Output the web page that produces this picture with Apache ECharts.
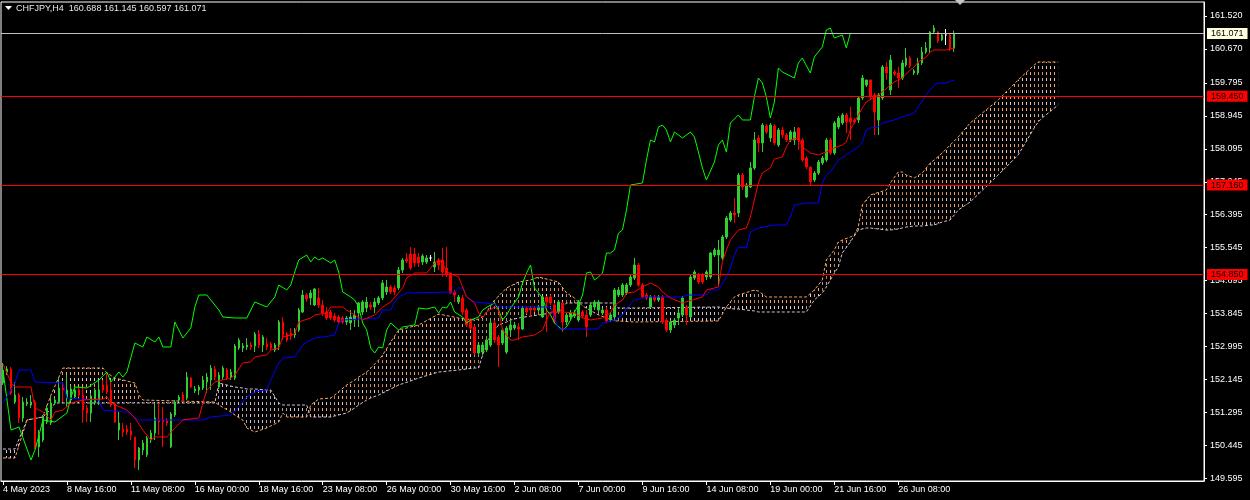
<!DOCTYPE html>
<html><head><meta charset="utf-8">
<script src="https://cdn.jsdelivr.net/npm/echarts@6/dist/echarts.min.js"></script>
<style>html,body{margin:0;padding:0;background:#000;}#c{width:1250px;height:500px;}</style>
</head><body><div id="c"></div>
<script>
const titleText = 'CHFJPY,H4  160.688 161.145 160.597 161.071';
const yTicks = [161.520,160.670,159.795,158.945,158.095,157.245,156.395,155.545,154.695,153.845,152.995,152.145,151.295,150.445,149.595];
const xLabelIdx = [0,16,32,48,64,80,96,112,128,144,160,176,192,208,224];
const xLabelText = ['4 May 2023','8 May 16:00','11 May 08:00','16 May 00:00','18 May 16:00','23 May 08:00','26 May 00:00','30 May 16:00','2 Jun 08:00','7 Jun 00:00','9 Jun 16:00','14 Jun 08:00','19 Jun 00:00','21 Jun 16:00','26 Jun 08:00'];
const levels = [159.450,157.160,154.850];
const bidPrice = 161.071;

const opens = [
152.054,152.338,152.416,151.564,151.745,151.152,151.513,151.487,151.564,150.404,
150.584,151.049,151.023,151.539,151.564,151.925,151.667,151.616,151.693,151.874,
151.745,151.410,151.281,151.539,151.539,152.003,152.003,151.874,151.513,150.842,
150.868,150.868,150.816,150.662,150.068,150.326,150.197,150.584,150.765,151.100,
151.100,151.075,150.404,151.229,151.616,151.745,151.667,152.183,151.848,151.874,
151.925,152.080,152.132,152.416,151.951,152.209,152.390,152.209,152.183,152.957,
152.957,152.983,153.035,153.009,153.318,153.035,153.060,153.060,152.905,153.035,
153.628,153.318,153.344,153.292,153.421,153.886,154.324,154.247,154.066,154.247,
154.066,153.886,153.886,153.782,153.757,153.731,153.628,153.602,153.679,153.860,
153.886,153.989,154.066,154.015,154.118,154.247,154.402,154.531,154.505,154.505,
154.969,155.253,155.382,155.382,155.304,155.175,155.175,155.279,155.046,155.227,
155.227,155.020,154.892,154.402,154.144,154.247,153.937,153.679,153.499,152.828,
152.854,152.905,153.035,153.602,153.241,153.086,152.854,153.421,153.473,153.499,
153.447,153.989,153.989,153.989,153.937,153.757,154.273,154.273,154.066,153.886,
154.118,153.628,153.757,153.782,153.679,153.886,153.808,153.808,154.015,153.937,
153.860,153.937,153.679,153.757,154.324,154.324,154.376,154.582,154.763,155.098,
154.582,154.324,154.015,154.273,154.195,154.273,153.679,153.421,153.550,153.731,
153.808,154.015,153.757,154.763,154.840,154.840,154.789,154.789,155.356,155.356,
155.279,155.820,156.259,156.439,156.439,157.419,156.852,157.110,157.600,158.374,
158.245,158.683,158.374,158.683,158.193,158.580,158.451,158.322,158.322,158.631,
158.322,157.858,157.626,157.290,157.471,157.729,157.806,158.322,157.987,158.657,
158.760,158.967,158.889,158.838,158.838,159.405,159.741,159.870,159.483,158.838,
159.405,160.205,159.612,160.076,160.050,159.921,160.256,160.437,160.050,160.050,
160.308,160.592,160.695,161.108,161.108,160.901,161.030,161.030,160.688];
const closes = [
152.390,152.416,151.796,151.745,151.152,151.564,151.564,151.564,150.404,150.713,
151.178,151.410,151.539,151.616,151.925,151.874,151.874,151.900,151.874,151.745,
151.358,151.281,151.719,151.874,151.874,151.874,151.822,151.487,151.049,151.023,
150.791,150.791,150.713,150.068,150.378,150.507,150.636,150.765,151.152,151.049,
151.049,151.023,151.255,151.564,151.693,151.616,152.209,151.951,151.900,151.951,
152.132,152.209,152.441,152.209,152.261,152.441,152.183,152.338,153.009,153.163,
153.009,153.035,152.983,153.318,153.035,153.241,152.983,152.957,153.035,153.628,
153.292,153.163,153.267,153.421,153.937,154.324,154.221,154.376,154.479,154.066,
153.860,153.731,153.731,153.679,153.628,153.628,153.731,153.757,153.808,154.118,
154.144,154.144,154.015,154.144,154.247,154.634,154.531,154.402,154.402,154.969,
155.227,155.201,155.020,155.150,155.150,155.330,155.279,155.279,155.175,155.098,
154.917,154.840,154.376,154.324,154.273,153.886,153.550,153.473,152.828,153.035,
153.035,153.163,153.602,153.163,153.035,153.421,153.473,153.550,153.550,153.447,
153.989,153.886,153.937,153.937,154.015,154.273,154.144,154.118,153.628,154.144,
153.628,153.808,153.860,153.860,154.144,153.782,153.499,154.066,154.144,154.144,
153.937,153.654,153.808,154.453,154.453,154.582,154.582,154.789,155.098,154.582,
154.273,154.247,154.273,154.195,154.273,153.628,153.421,153.628,153.679,153.860,
154.247,153.808,154.789,154.917,154.660,154.660,154.917,155.407,155.485,155.485,
155.820,156.310,156.439,156.387,157.419,157.110,157.161,157.600,158.322,158.245,
158.709,158.528,158.709,158.245,158.580,158.451,158.322,158.528,158.528,158.322,
157.806,157.626,157.239,157.471,157.755,157.858,158.322,157.987,158.760,158.889,
158.967,158.786,158.786,158.786,159.405,159.921,159.870,159.431,159.044,159.483,
160.205,160.050,160.385,160.024,159.921,160.308,160.437,160.231,160.102,160.308,
160.592,160.695,161.108,161.211,160.876,161.030,161.030,160.669,161.071];
const lows = [
152.003,152.261,151.745,151.513,151.023,151.049,151.461,151.410,150.352,150.146,
150.533,150.997,150.971,151.487,151.539,151.564,151.435,151.564,151.642,151.693,
151.023,151.049,151.049,151.487,151.487,151.796,151.771,151.435,151.023,150.584,
150.662,150.713,150.584,149.862,149.811,150.197,150.146,150.507,150.584,150.713,
150.404,150.945,150.378,151.178,151.564,151.564,151.616,151.925,151.796,151.745,
151.874,151.796,151.874,152.132,151.900,152.132,152.132,152.132,152.132,152.905,
152.854,152.905,152.905,152.854,152.957,152.854,152.905,152.905,152.854,152.905,
153.163,153.112,153.163,153.215,153.370,153.860,154.144,154.066,154.040,153.989,
153.782,153.679,153.679,153.628,153.550,153.576,153.550,153.421,153.499,153.499,
153.808,153.886,153.937,153.860,154.066,154.195,154.324,154.350,154.324,154.453,
154.892,155.150,154.969,155.046,155.046,155.098,155.124,155.201,154.917,154.969,
154.789,154.789,154.350,154.144,154.092,153.808,153.499,153.421,152.777,152.751,
152.777,152.854,152.983,153.086,152.467,153.035,152.802,153.241,153.421,153.163,
153.421,153.834,153.757,153.886,153.886,153.731,153.370,154.066,153.576,153.834,
153.370,153.550,153.679,153.731,153.628,153.731,153.241,153.757,153.937,153.886,
153.808,153.602,153.628,153.731,154.273,154.273,154.324,154.531,154.711,154.531,
154.247,154.195,153.989,154.144,154.144,153.576,153.370,153.344,153.473,153.550,
153.757,153.550,153.731,154.711,154.608,154.608,154.711,154.737,155.304,154.531,
155.227,155.769,156.207,156.181,156.336,157.032,156.826,157.084,157.548,158.012,
158.012,158.477,158.270,158.193,158.141,158.374,158.270,158.270,158.193,158.064,
157.755,157.574,157.161,157.239,157.419,157.677,157.755,157.935,157.935,158.606,
158.709,158.503,158.322,158.735,158.760,159.354,159.689,159.354,158.451,158.451,
159.354,159.870,159.483,159.973,159.663,159.870,160.205,160.179,159.999,159.999,
160.256,160.540,160.566,161.082,160.824,160.876,160.772,160.618,160.597];
const highs = [
152.570,152.493,152.467,152.080,151.796,151.693,151.667,151.745,151.616,150.842,
151.229,151.487,151.693,151.667,152.209,152.080,152.261,151.977,151.925,151.925,
151.951,151.487,151.796,151.925,152.132,152.132,152.312,152.132,151.564,151.307,
151.023,150.971,151.023,150.662,150.404,150.584,150.687,150.842,151.539,151.539,
151.435,151.152,151.307,151.616,151.745,151.822,152.338,152.209,151.977,152.003,
152.235,152.312,152.519,152.493,152.338,152.493,152.441,152.416,153.060,153.215,
153.086,153.215,153.112,153.370,153.421,153.292,153.215,153.112,153.086,153.679,
153.757,153.370,153.473,153.473,153.989,154.453,154.376,154.453,154.505,154.505,
154.195,154.015,153.937,153.860,153.808,153.782,153.782,153.937,153.937,154.144,
154.195,154.273,154.144,154.247,154.298,154.711,154.711,154.582,154.582,155.046,
155.279,155.407,155.562,155.537,155.407,155.382,155.356,155.356,155.433,155.279,
155.537,155.562,154.892,154.453,154.324,154.324,153.989,153.731,153.550,153.086,
153.086,153.215,153.679,153.679,153.292,153.473,153.525,153.679,153.628,153.602,
154.015,154.040,154.015,154.040,154.066,154.298,154.298,154.324,154.118,154.195,
154.144,153.860,153.937,153.937,154.195,153.937,153.937,154.118,154.195,154.195,
153.989,154.015,153.860,154.505,154.531,154.634,154.634,154.840,155.279,155.150,
154.634,154.376,154.324,154.324,154.324,154.324,153.731,153.679,153.731,153.989,
154.298,154.066,154.840,154.969,154.892,154.892,154.969,155.433,155.537,155.743,
155.872,156.362,156.491,156.826,157.471,157.471,157.213,157.755,158.528,158.451,
158.760,158.735,158.760,158.735,158.631,158.657,158.503,158.580,158.657,158.657,
158.374,157.909,157.626,157.523,157.806,157.909,158.374,158.374,158.812,158.941,
159.018,159.018,159.173,158.889,159.431,159.999,159.870,159.870,159.534,159.534,
160.256,160.334,160.514,160.128,160.205,160.385,160.695,160.489,160.153,160.437,
160.721,160.850,161.133,161.288,161.133,161.082,161.185,161.082,161.145];

const tenkanIdx = [0,1,2,3,7,8,10,12,13,15,17,20,25,26,27,31,33,35,37,38,41,43,45,49,50,51,53,55,57,58,60,62,63,66,67,69,70,73,74,77,78,81,82,85,86,88,90,93,95,97,100,101,103,106,107,108,109,110,111,114,115,116,118,119,120,121,123,124,125,127,128,130,133,135,136,137,140,143,145,147,150,152,153,155,156,158,160,162,164,165,167,170,175,176,179,180,181,182,184,186,187,188,189,190,192,193,195,196,197,199,200,202,204,206,208,210,211,212,214,215,216,218,219,220,223,225,227,228,229,231,232,233,236,238];
const tenkanVal = [152.544,152.312,152.054,151.951,151.951,151.410,151.307,151.100,151.307,151.358,151.539,151.616,151.642,151.693,151.539,151.358,151.152,150.842,150.584,150.662,150.662,150.894,151.100,151.152,151.539,151.874,152.080,152.132,152.183,152.261,152.570,152.596,152.725,152.777,152.905,152.957,153.241,153.318,153.628,153.731,153.808,153.860,154.015,154.015,153.937,153.808,153.679,153.808,154.015,154.144,154.505,154.763,154.892,154.892,155.020,155.150,155.227,155.150,154.917,154.789,154.531,154.273,154.118,153.860,153.731,153.886,154.015,153.937,153.421,153.163,153.163,153.241,153.292,153.421,153.679,153.886,153.886,153.860,153.731,153.679,153.731,153.860,154.066,154.195,154.376,154.402,154.531,154.634,154.531,154.402,154.247,154.118,154.273,154.453,154.531,155.175,155.485,155.743,156.000,156.052,156.336,156.774,157.213,157.471,157.600,157.832,157.884,158.141,158.322,158.374,158.141,157.987,157.935,158.012,158.116,158.193,158.270,158.580,158.967,159.147,159.302,159.431,159.483,159.560,159.818,159.921,160.128,160.205,160.334,160.463,160.592,160.643,160.643,160.695];

const kijunIdx = [0,3,4,7,8,15,16,24,25,31,33,34,50,52,57,59,61,63,66,67,69,70,73,75,76,78,80,83,84,85,94,95,97,98,99,101,113,114,115,116,118,123,124,137,138,139,149,150,153,155,156,158,161,170,171,176,177,179,181,182,183,184,186,187,189,193,196,197,198,201,204,205,206,207,209,211,214,215,216,217,219,220,223,225,228,229,231,233,234,236,238];
const kijunVal = [151.539,152.054,152.390,152.390,152.080,152.054,151.667,151.616,151.358,151.307,151.178,151.100,151.100,151.178,151.229,151.435,151.693,151.822,151.874,152.132,152.570,152.699,152.725,153.035,153.112,153.215,153.241,153.292,153.602,153.679,153.731,153.937,153.937,154.144,154.273,154.376,154.402,154.505,154.505,154.273,154.144,154.092,154.015,154.015,153.757,153.447,153.447,153.602,153.679,153.808,153.989,154.195,154.273,154.273,154.324,154.324,154.453,154.453,154.789,155.020,155.356,155.562,155.537,155.949,156.052,156.129,156.129,156.336,156.645,156.697,156.697,157.213,157.419,157.497,157.806,157.935,158.141,158.270,158.580,158.631,158.657,158.760,158.838,158.915,159.018,159.173,159.483,159.741,159.792,159.792,159.870];

const chikou = [[0,152.390],[2,150.842],[4,150.920],[7,150.068],[8,150.326],[10,151.100],[13,151.049],[16,151.281],[17,151.693],[18,151.951],[21,151.925],[24,152.132],[25,152.235],[26,152.338],[27,152.080],[29,152.338],[30,152.209],[31,152.338],[33,153.086],[34,153.035],[35,152.983],[36,153.241],[38,153.112],[39,153.241],[40,152.983],[42,152.983],[43,153.628],[44,153.421],[45,153.215],[47,153.473],[48,154.015],[49,154.324],[51,154.324],[54,153.937],[55,153.757],[58,153.731],[61,153.731],[63,154.144],[66,154.015],[68,154.273],[69,154.582],[71,154.453],[72,154.582],[73,154.917],[74,155.227],[76,155.356],[77,155.175],[78,155.304],[79,155.227],[80,155.279],[82,155.150],[83,155.227],[84,154.917],[85,154.402],[87,154.273],[88,154.195],[89,154.015],[90,153.602],[91,153.421],[92,152.957],[93,152.828],[94,152.983],[95,152.957],[96,153.421],[97,153.602],[99,153.421],[100,153.499],[103,153.550],[104,153.989],[106,153.963],[108,154.015],[109,153.860],[110,154.015],[111,153.989],[112,154.144],[113,153.886],[115,153.757],[116,153.602],[117,153.679],[119,153.757],[120,153.937],[122,154.066],[123,154.118],[124,153.937],[125,153.679],[126,153.808],[127,153.989],[129,154.273],[130,154.634],[131,154.892],[132,155.098],[133,154.505],[135,154.247],[136,153.937],[137,153.808],[138,153.602],[140,153.421],[141,153.499],[142,153.679],[143,153.886],[144,154.066],[145,154.324],[146,154.892],[147,154.917],[148,154.711],[149,154.789],[150,154.892],[151,155.407],[152,155.407],[153,155.485],[154,155.923],[155,156.000],[156,156.516],[157,157.161],[160,157.213],[161,157.806],[162,158.322],[163,158.270],[164,158.657],[165,158.709],[166,158.580],[167,158.270],[168,158.528],[170,158.374],[172,158.528],[173,158.399],[174,158.012],[175,157.600],[176,157.290],[178,157.755],[179,158.193],[180,158.322],[181,158.012],[182,158.760],[184,158.967],[185,158.838],[187,158.838],[188,159.431],[189,159.921],[190,159.792],[191,159.431],[192,158.889],[193,159.302],[194,160.179],[195,160.076],[198,159.921],[199,160.308],[200,160.437],[202,160.050],[203,160.463],[205,160.721],[206,161.159],[207,161.211],[208,160.953],[210,161.030],[211,160.695],[212,161.071]];

const spanIdx = [0,3,6,10,12,13,15,25,26,28,33,34,35,53,54,57,58,60,61,63,66,67,69,70,71,76,77,79,82,83,86,88,89,91,92,94,95,97,99,102,104,109,114,118,119,120,121,122,123,124,126,127,129,132,134,137,139,141,143,145,149,153,154,158,179,181,183,184,188,189,191,201,203,205,206,208,209,210,212,213,214,215,216,217,221,222,224,225,226,228,230,232,233,235,237,239,242,249,254,258,259,260,264];
const spanA = [150.120,150.120,151.100,151.178,151.745,151.977,152.441,152.441,152.312,152.183,152.054,151.745,151.616,151.564,151.487,151.307,151.229,151.100,150.894,150.791,150.894,150.945,151.049,151.281,151.178,151.178,151.487,151.642,151.667,151.745,152.003,152.132,152.209,152.338,152.441,152.648,152.777,153.112,153.421,153.499,153.550,153.834,153.731,153.679,153.705,153.757,153.886,154.040,154.195,154.298,154.505,154.556,154.660,154.711,154.789,154.711,154.660,154.376,154.247,154.040,153.808,153.654,153.654,153.628,153.654,154.015,154.273,154.324,154.453,154.427,154.273,154.273,154.453,154.711,155.227,155.485,155.691,155.743,155.820,155.872,156.078,156.645,156.774,156.903,157.032,157.213,157.497,157.497,157.419,157.342,157.471,157.729,157.806,157.987,158.193,158.399,158.760,159.354,159.870,160.256,160.334,160.334,160.334];
const spanB = [150.352,150.352,151.100,151.178,151.384,151.539,151.539,151.539,151.539,151.539,151.539,151.539,151.539,151.539,152.054,151.977,151.951,151.925,151.900,151.900,151.874,151.874,151.539,151.487,151.487,151.487,151.178,151.178,151.178,151.204,151.281,151.410,151.487,151.616,151.667,151.745,151.796,151.900,152.003,152.106,152.183,152.338,152.390,152.441,152.441,152.777,153.035,153.292,153.421,153.550,153.628,153.679,153.731,153.782,153.808,153.860,153.886,154.118,154.118,154.118,154.118,154.118,153.989,153.989,154.015,153.989,153.963,153.963,153.912,153.886,153.886,153.886,154.195,154.376,154.531,154.892,155.046,155.407,155.691,155.846,156.000,156.026,156.052,156.052,156.000,156.000,156.026,156.052,156.078,156.104,156.104,156.129,156.129,156.207,156.259,156.516,156.723,157.419,157.935,158.631,158.786,158.889,159.225];

const FONT = 'Liberation Sans';
const nCats = 301;
const cats = Array.from({length: nCats}, (_, k) => String(k));
const labelMap = {};
xLabelIdx.forEach((k, j) => { labelMap[k] = xLabelText[j]; });
const zip = (a, b) => a.map((v, k) => [v, b[k]]);

const candleData = opens.map((o, k) => [o, closes[k], lows[k], highs[k]]);
const cloudSegs = [];
for (let k = 0; k < spanIdx.length - 1; k++) {
  cloudSegs.push([spanIdx[k], spanA[k], spanB[k], spanIdx[k+1], spanA[k+1], spanB[k+1]]);
}
function makePattern(c1, c2) {
  const c = document.createElement('canvas');
  c.width = 4; c.height = 12;
  const g = c.getContext('2d');
  g.fillStyle = c1;
  g.fillRect(2, 0, 1, 3);
  g.fillStyle = c2;
  g.fillRect(2, 6, 1, 3);
  return c;
}
const SANDY = '#F4A460', THISTLE = '#D8BFD8';
const patSandy = {image: makePattern(SANDY, '#EAC6BC'), repeat: 'repeat'};
const patThistle = {image: makePattern(THISTLE, THISTLE), repeat: 'repeat'};

const chart = echarts.init(document.getElementById('c'), null, {renderer: 'canvas'});
const markData = levels.map(v => ({
  yAxis: v,
  lineStyle: {color: '#FF0000', width: 1, type: 'solid'},
  label: {show: true, position: 'end', distance: 3, formatter: () => v.toFixed(3), color: '#000', backgroundColor: '#FF0000', padding: [1, 4, 1, 4], fontSize: 9, fontFamily: FONT}
}));
markData.push({
  yAxis: bidPrice,
  lineStyle: {color: '#C0C0C0', width: 1, type: 'solid'},
  label: {show: true, position: 'end', distance: 3, formatter: () => bidPrice.toFixed(3), color: '#000', backgroundColor: '#FFFFE0', padding: [1, 4, 1, 4], fontSize: 9, fontFamily: FONT}
});

chart.setOption({
  backgroundColor: '#000000',
  animation: false,
  grid: {left: 0, right: 46, top: 2, bottom: 19, show: true, borderColor: '#FFFFFF', borderWidth: 1, backgroundColor: 'transparent'},
  xAxis: {
    type: 'category', data: cats, boundaryGap: true,
    axisLine: {show: true, lineStyle: {color: '#FFFFFF', width: 1}},
    axisTick: {show: true, alignWithLabel: true, length: 4, interval: (i) => labelMap[i] !== undefined, lineStyle: {color: '#FFFFFF'}},
    axisLabel: {show: true, interval: (i) => labelMap[i] !== undefined, formatter: (v, i) => labelMap[i] || '', align: 'left', margin: 4, color: '#FFFFFF', fontSize: 9, fontFamily: FONT},
    splitLine: {show: false}
  },
  yAxis: {
    type: 'value', position: 'right', min: 149.527, max: 161.881, scale: true,
    axisLine: {show: true, lineStyle: {color: '#FFFFFF', width: 1}},
    axisTick: {show: true, length: 3, customValues: yTicks, lineStyle: {color: '#FFFFFF'}},
    axisLabel: {show: true, customValues: yTicks, formatter: (v) => Number(v).toFixed(3), margin: 6, color: '#FFFFFF', fontSize: 9, fontFamily: FONT},
    splitLine: {show: false}
  },
  graphic: [
    {type: 'polygon', left: 5, top: 6, shape: {points: [[0,0],[7,0],[3.5,4]]}, style: {fill: '#FFFFFF'}, z: 100},
    {type: 'text', left: 16, top: 4, style: {text: titleText, fill: '#E8E8E8', font: '9px ' + FONT}, z: 100},
    {type: 'polygon', left: 955, top: 0, shape: {points: [[0,0],[10,0],[5,5]]}, style: {fill: '#C8C8C8'}, z: 100}
  ],
  series: [
    {
      type: 'custom', name: 'cloud', z: 1, silent: true,
      encode: {x: [0, 3], y: [1, 2, 4, 5]},
      data: cloudSegs,
      renderItem: function (params, api) {
        const p0a = api.coord([api.value(0), api.value(1)]);
        const p1a = api.coord([api.value(3), api.value(4)]);
        const p1b = api.coord([api.value(3), api.value(5)]);
        const p0b = api.coord([api.value(0), api.value(2)]);
        const aAbove = (api.value(1) + api.value(4)) >= (api.value(2) + api.value(5));
        return {type: 'polygon', shape: {points: [p0a, p1a, p1b, p0b]}, style: {fill: aAbove ? patSandy : patThistle, stroke: null}};
      }
    },
    {type: 'line', name: 'SpanB', z: 2, silent: true, symbol: 'none', data: zip(spanIdx, spanB), lineStyle: {color: THISTLE, width: 1, type: [3, 2]}},
    {type: 'line', name: 'SpanA', z: 2, silent: true, symbol: 'none', data: zip(spanIdx, spanA), lineStyle: {color: SANDY, width: 1, type: [3, 2]}},
    {
      type: 'candlestick', name: 'CHFJPY', z: 3, silent: true, barWidth: 2,
      data: candleData,
      itemStyle: {color: '#32CD32', color0: '#FF0000', borderColor: '#32CD32', borderColor0: '#FF0000', borderColorDoji: '#FFFFFF', borderWidth: 1},
      markLine: {silent: true, symbol: 'none', animation: false, data: markData}
    },
    {type: 'line', name: 'Chikou', z: 4, silent: true, symbol: 'none', data: chikou, lineStyle: {color: '#00FF00', width: 1}},
    {type: 'line', name: 'Kijun', z: 4, silent: true, symbol: 'none', data: zip(kijunIdx, kijunVal), lineStyle: {color: '#0000FF', width: 1}},
    {type: 'line', name: 'Tenkan', z: 4, silent: true, symbol: 'none', data: zip(tenkanIdx, tenkanVal), lineStyle: {color: '#FF0000', width: 1}}
  ]
});
</script></body></html>
